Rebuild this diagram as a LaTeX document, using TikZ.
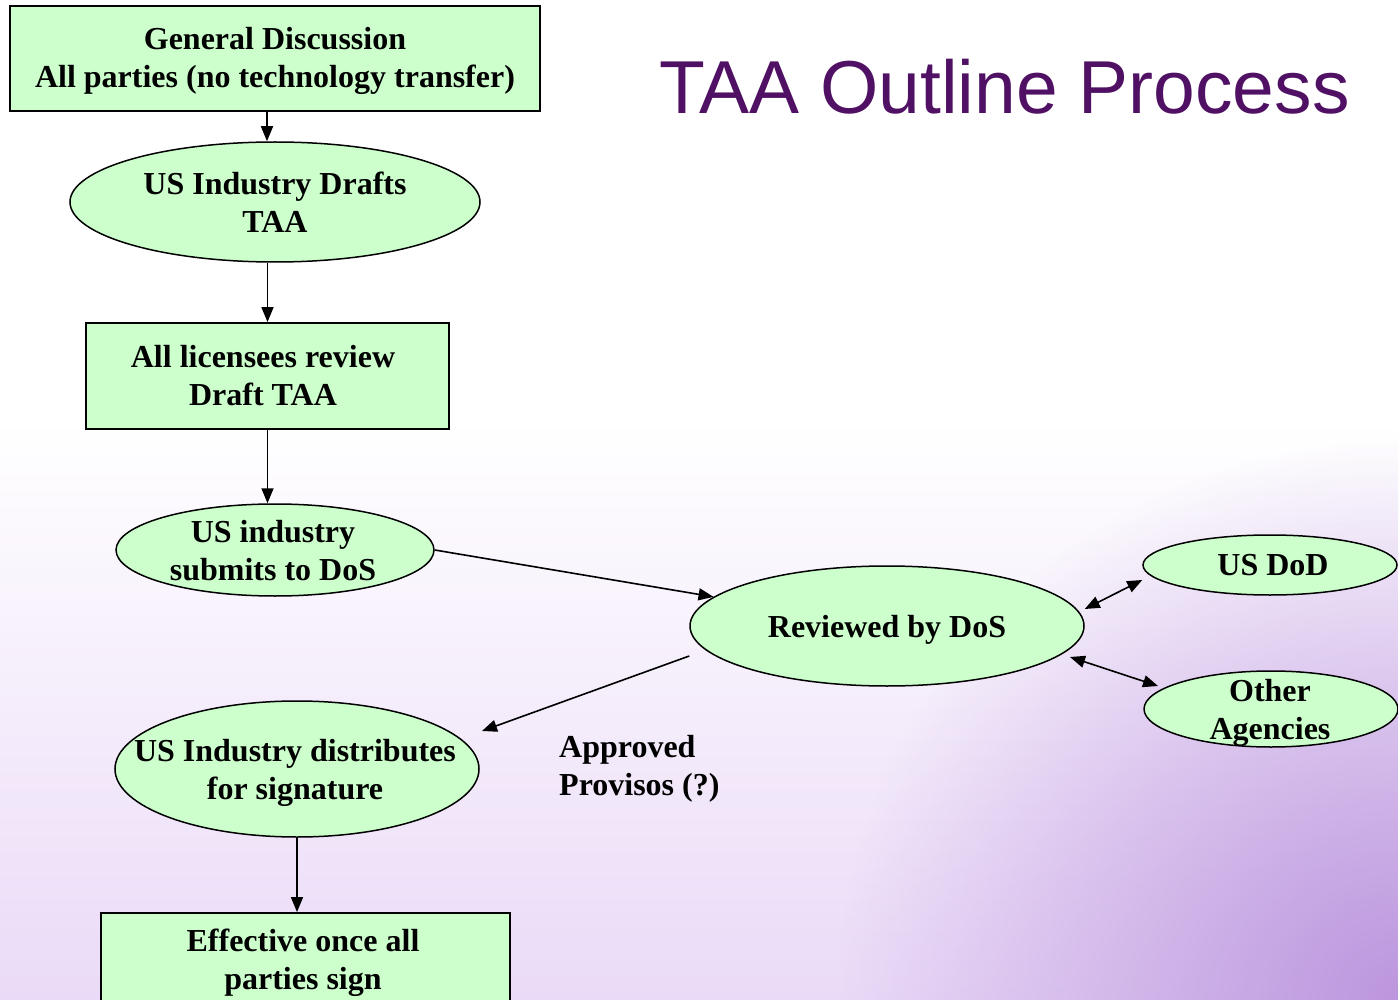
\documentclass[tikz,border=0pt]{standalone}
\usepackage{fontspec}
\setmainfont{Liberation Serif}
\newfontfamily\titlefont{Liberation Sans}
\usetikzlibrary{shapes.geometric,arrows.meta,fadings,calc}
\definecolor{boxgreen}{RGB}{204,255,204}
\definecolor{titlepurple}{RGB}{80,16,100}
\definecolor{lavA}{RGB}{234,218,247}
\definecolor{cornerpurple}{RGB}{188,150,222}
\tikzfading[name=cornerfade, inner color=transparent!0, outer color=transparent!100]
\begin{document}
\begin{tikzpicture}[x=1pt,y=-1pt,
  boxnode/.style={draw=black, line width=1.8pt, fill=boxgreen, rectangle, inner sep=0pt},
  ellnode/.style={draw=black, line width=1.5pt, fill=boxgreen, ellipse, inner sep=0pt},
  lbl/.style={font=\fontsize{32}{38.5}\selectfont\bfseries, align=center, inner sep=0pt},
  arr/.style={line width=1.6pt, -{Triangle[length=15pt,width=12pt]}},
  darr/.style={line width=1.6pt, {Triangle[length=15pt,width=12pt]}-{Triangle[length=15pt,width=12pt]}}]
\useasboundingbox (0,0) rectangle (1398,1000);
\clip (0,0) rectangle (1398,1000);
% background
\fill[white] (0,0) rectangle (1398,1000);
\shade[top color=white, bottom color=lavA] (0,420) rectangle (1398,1000);
\fill[cornerpurple, path fading=cornerfade] (1398,1000) circle (560);
% title
\node[font=\titlefont\fontsize{75}{80}\selectfont, text=titlepurple, anchor=base west, inner sep=0pt] (title) at (659,114) {TAA Outline Process};
% shapes
\node[boxnode, minimum width=530pt, minimum height=105pt] (b1) at (275,58.5) {};
\node[lbl] (b1t) at (275,61) {\strut General Discussion\\\strut All parties (no technology transfer)};
\node[ellnode, minimum width=410pt, minimum height=120pt] (e1) at (275,202) {};
\node[lbl] (e1t) at (275,206) {\strut US Industry Drafts\\\strut TAA};
\node[boxnode, minimum width=363pt, minimum height=106pt] (b2) at (267.5,376) {};
\node[lbl] (b2t) at (263,379) {\strut All licensees review\\\strut Draft TAA};
\node[ellnode, minimum width=318pt, minimum height=92pt] (e2) at (275,550) {};
\node[lbl] (e2t) at (273,554) {\strut US industry\\\strut submits to DoS};
\node[ellnode, minimum width=394pt, minimum height=120pt] (e3) at (887,626) {};
\node[lbl] (e3t) at (887,630) {\strut Reviewed by DoS};
\node[ellnode, minimum width=254pt, minimum height=60pt] (dod) at (1270,565) {};
\node[lbl] (dodt) at (1273,568) {\strut US DoD};
\node[ellnode, minimum width=254pt, minimum height=76pt] (oth) at (1271,709) {};
\node[lbl] (otht) at (1270,713) {\strut Other\\\strut Agencies};
\node[ellnode, minimum width=364pt, minimum height=136pt] (e4) at (297,769) {};
\node[lbl] (e4t) at (295,773) {\strut US Industry distributes\\\strut for signature};
\node[lbl, align=left, anchor=west] (appr) at (559,769) {\strut Approved\\\strut Provisos (?)};
\node[boxnode, minimum width=409pt, minimum height=110pt] (b3) at (305.5,968) {};
\node[lbl] (b3t) at (303,963) {\strut Effective once all\\\strut parties sign};
% connectors
\draw[arr] ([xshift=-8pt]b1.south) -- ([xshift=-8pt]e1.north);
\draw[arr] (e1.south -| b2.north) -- (b2.north);
\draw[arr] (b2.south) -- (b2.south |- e2.north);
\draw[arr] (e2.east) -- (e3);
\draw[arr] ([yshift=-30pt]e3.west) -- ([shift={(185,-38)}]e4.center);
\draw[darr] ([yshift=17pt]e3.east) -- ([yshift=-15pt]dod.west);
\draw[darr] ([shift={(183,31)}]e3.center) -- ([shift={(-113,-23)}]oth.center);
\draw[arr] (e4.south) -- (e4.south |- b3.north);
\end{tikzpicture}
\end{document}
